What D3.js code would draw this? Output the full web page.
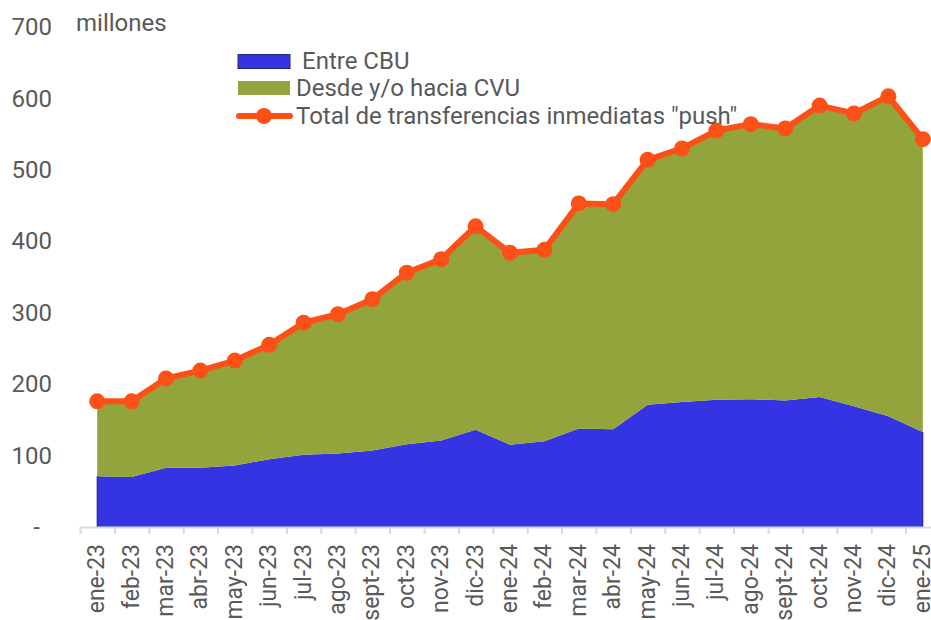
<!DOCTYPE html>
<html>
<head>
<meta charset="utf-8">
<script src="https://cdn.jsdelivr.net/npm/d3@7"></script>
<style>
  body { margin: 0; background: #fff; }
  text { font-family: Roboto, "Noto Sans", sans-serif; fill: #595959; }
</style>
</head>
<body>
<svg id="chart" width="931" height="620"></svg>
<script>
// Months shown on the x axis
const months = ['ene-23','feb-23','mar-23','abr-23','may-23','jun-23','jul-23','ago-23','sept-23','oct-23','nov-23','dic-23',
  'ene-24','feb-24','mar-24','abr-24','may-24','jun-24','jul-24','ago-24','sept-24','oct-24','nov-24','dic-24','ene-25'];

// Entre CBU (millones)
const cbu = [71,70,83,83,86,95,101,103,107,116,121,136,115,120,138,137,171,175,178,179,177,182,169,155,133];

// Desde y/o hacia CVU (millones)
const cvu = [105,106,125,136,147,160,185,195,212,240,254,285,269,268,315,315,343,355,377,385,381,408,410,448,410];

// Total de transferencias inmediatas "push" (millones)
const total = [176,176,208,219,233,255,286,298,319,356,375,421,384,388,453,452,514,530,555,564,558,590,579,603,543];

const yTicks = [0,100,200,300,400,500,600,700];

const svg = d3.select('#chart');

const plotLeft = 80, bw = 34.4;
const plotRight = plotLeft + bw * months.length;
const plotTop = 27, plotBottom = 527;

// scales
const x = d3.scaleBand().domain(months).range([plotLeft, plotRight]).paddingInner(0).paddingOuter(0);
const cx = d => x(d) + x.bandwidth() / 2;
const y = d3.scaleLinear().domain([0, 700]).range([plotBottom, plotTop]);

// stacked data
const rows = months.map((m, i) => ({ month: m, cbu: cbu[i], cvu: cvu[i] }));
const stacked = d3.stack().keys(['cbu', 'cvu'])(rows);
const colors = { cbu: '#3434e2', cvu: '#93a43d' };

const area = d3.area()
  .x(d => cx(d.data.month))
  .y0(d => y(d[0]))
  .y1(d => y(d[1]));

svg.append('g').selectAll('path')
  .data(stacked)
  .join('path')
  .attr('fill', d => colors[d.key])
  .attr('d', area);

// thin edges on the blue area, like the original
svg.append('line')
  .attr('x1', cx(months[0])).attr('x2', cx(months[0]))
  .attr('y1', y(0)).attr('y2', y(cbu[0]))
  .attr('stroke', '#1a1a8c').attr('stroke-width', 1);
svg.append('line')
  .attr('x1', cx(months[months.length - 1])).attr('x2', cx(months[months.length - 1]))
  .attr('y1', y(0)).attr('y2', y(cbu[cbu.length - 1]))
  .attr('stroke', '#1a1a8c').attr('stroke-width', 1);

// y axis (labels only)
const yAxis = svg.append('g')
  .attr('transform', 'translate(52,0)')
  .call(d3.axisLeft(y).tickValues(yTicks).tickSize(0).tickPadding(0)
    .tickFormat(d => d === 0 ? '-' : d));
yAxis.select('.domain').remove();
yAxis.selectAll('text')
  .style('font-size', '24px')
  .style('fill', '#595959')
  .attr('font-family', null)
  .attr('dx', d => d === 0 ? -12 : 0);

// x axis: line + tick marks on band edges
const idx = d3.scaleLinear().domain([0, months.length]).range([plotLeft, plotRight]);
const xTicks = svg.append('g')
  .attr('transform', `translate(0,${plotBottom})`)
  .call(d3.axisBottom(idx).tickValues(d3.range(0, months.length + 1)).tickSize(7).tickFormat(''));
xTicks.select('.domain')
  .attr('d', `M${plotLeft},0.5H931`)
  .attr('stroke', '#d9d9d9').attr('stroke-width', 2);
xTicks.selectAll('.tick line').attr('stroke', '#d9d9d9').attr('stroke-width', 2);

// x labels (rotated)
const xAxis = svg.append('g')
  .attr('transform', `translate(0,${plotBottom})`)
  .call(d3.axisBottom(x).tickSize(0).tickPadding(0));
xAxis.select('.domain').remove();
xAxis.selectAll('text')
  .style('font-size', '23px')
  .style('fill', '#595959')
  .attr('font-family', null)
  .attr('text-anchor', 'end')
  .attr('transform', 'translate(-1,17) rotate(-90)')
  .attr('dy', '0.35em')
  .attr('y', 0);

// total line
const line = d3.line()
  .x((d, i) => cx(months[i]))
  .y(d => y(d));

svg.append('path')
  .datum(total)
  .attr('fill', 'none')
  .attr('stroke', '#fc5016')
  .attr('stroke-width', 6)
  .attr('stroke-linejoin', 'round')
  .attr('d', line);

svg.append('g').selectAll('circle')
  .data(total)
  .join('circle')
  .attr('cx', (d, i) => cx(months[i]))
  .attr('cy', d => y(d))
  .attr('r', 8)
  .attr('fill', '#fc5016');

// units label
svg.append('text')
  .attr('x', 76)
  .attr('y', 31)
  .style('font-size', '24px')
  .text('millones');

// legend
const legend = svg.append('g');

legend.append('rect')
  .attr('x', 238).attr('y', 54.5)
  .attr('width', 52).attr('height', 14)
  .attr('fill', colors.cbu)
  .attr('stroke', '#1f2a7a').attr('stroke-width', 1);
legend.append('text')
  .attr('x', 302).attr('y', 61)
  .attr('dy', '0.35em')
  .style('font-size', '24px')
  .text('Entre CBU');

legend.append('rect')
  .attr('x', 238).attr('y', 81)
  .attr('width', 52).attr('height', 14)
  .attr('fill', colors.cvu);
legend.append('text')
  .attr('x', 296).attr('y', 88)
  .attr('dy', '0.35em')
  .style('font-size', '24px')
  .text('Desde y/o hacia CVU');

legend.append('line')
  .attr('x1', 239).attr('x2', 290)
  .attr('y1', 116).attr('y2', 116)
  .attr('stroke', '#fc5016').attr('stroke-width', 6)
  .attr('stroke-linecap', 'round');
legend.append('circle')
  .attr('cx', 264).attr('cy', 116).attr('r', 8)
  .attr('fill', '#fc5016');
legend.append('text')
  .attr('x', 296).attr('y', 116)
  .attr('dy', '0.35em')
  .style('font-size', '24px')
  .text('Total de transferencias inmediatas "push"');
</script>
</body>
</html>
